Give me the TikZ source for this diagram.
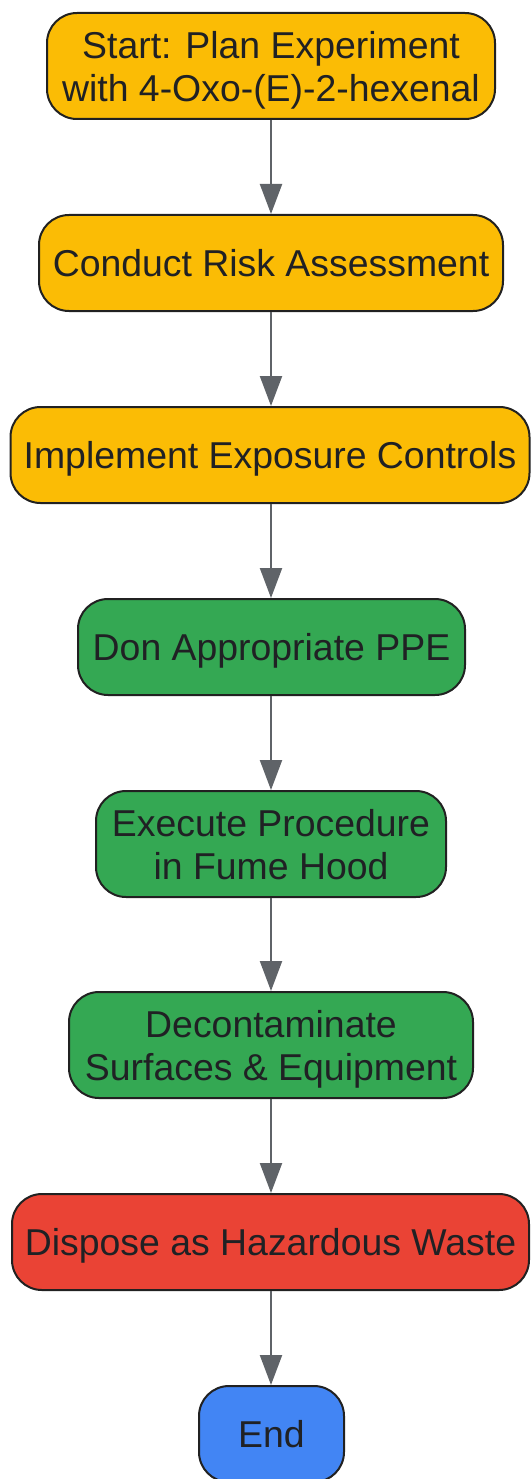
\documentclass[tikz,border=0pt]{standalone}
\usepackage{fontspec}
\setmainfont{Liberation Sans}
\usetikzlibrary{arrows.meta}
\definecolor{cyellow}{HTML}{FBBC05}
\definecolor{cgreen}{HTML}{34A853}
\definecolor{cred}{HTML}{EA4335}
\definecolor{cblue}{HTML}{4285F4}
\definecolor{cborder}{HTML}{212121}
\definecolor{ctext}{HTML}{202124}
\definecolor{carrow}{HTML}{5F6368}
\tikzset{
  flowbox/.style={draw=cborder, line width=2pt, rounded corners=30pt, align=center,
    text=ctext, inner sep=0pt, text depth=0pt, font=\fontsize{37.4}{43}\selectfont},
  flowarrow/.style={draw=carrow, line width=2.2pt, -{Triangle[width=22pt,length=30pt]}}
}
\begin{document}
\begin{tikzpicture}[x=1pt,y=-1pt]
\useasboundingbox (0,0) rectangle (530,1479);
\node[flowbox, fill=cyellow, minimum width=448pt, minimum height=106pt] (n1) at (271,66) {Start: Plan Experiment\\with 4-Oxo-(E)-2-hexenal};
\node[flowbox, fill=cyellow, minimum width=464pt, minimum height=96pt] (n2) at (271,263) {Conduct Risk Assessment};
\node[flowbox, fill=cyellow, minimum width=519pt, minimum height=96pt] (n3) at (270,455) {Implement Exposure Controls};
\node[flowbox, fill=cgreen, minimum width=387pt, minimum height=96pt] (n4) at (271.5,647) {Don Appropriate PPE};
\node[flowbox, fill=cgreen, minimum width=350pt, minimum height=106pt] (n5) at (271,844) {Execute Procedure\\in Fume Hood};
\node[flowbox, fill=cgreen, minimum width=404pt, minimum height=106pt] (n6) at (271,1045) {Decontaminate\\Surfaces \& Equipment};
\node[flowbox, fill=cred, minimum width=517pt, minimum height=96pt] (n7) at (270.5,1242) {Dispose as Hazardous Waste};
\node[flowbox, fill=cblue, minimum width=145pt, minimum height=96pt] (n8) at (271.5,1434) {End};
\draw[flowarrow] (n1.south -| 271,0) -- (n2.north -| 271,0);
\draw[flowarrow] (n2.south -| 271,0) -- (n3.north -| 271,0);
\draw[flowarrow] (n3.south -| 271,0) -- (n4.north -| 271,0);
\draw[flowarrow] (n4.south -| 271,0) -- (n5.north -| 271,0);
\draw[flowarrow] (n5.south -| 271,0) -- (n6.north -| 271,0);
\draw[flowarrow] (n6.south -| 271,0) -- (n7.north -| 271,0);
\draw[flowarrow] (n7.south -| 271,0) -- (n8.north -| 271,0);
\end{tikzpicture}
\end{document}
